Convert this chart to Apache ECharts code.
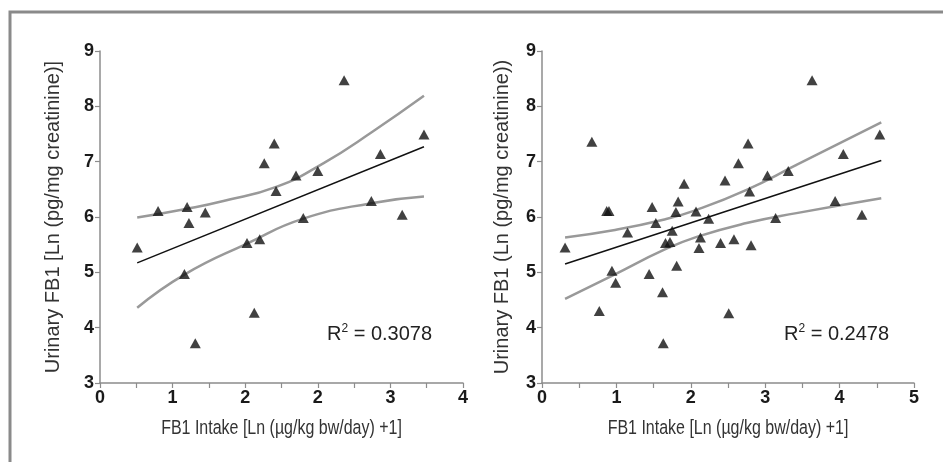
<!DOCTYPE html>
<html>
<head>
<meta charset="utf-8">
<script src="https://cdn.jsdelivr.net/npm/echarts@6/dist/echarts.min.js"></script>
<style>
html,body{margin:0;padding:0;background:#fff;}
#chart{width:943px;height:462px;}
</style>
</head>
<body>
<div id="chart"></div>
<script>
// ---- Left panel data ----
var leftPointsX = [0.41,0.64,0.96,0.98,1.16,0.93,1.05,1.62,1.76,1.70,1.81,1.92,1.94,2.16,2.24,2.40,2.69,2.99,3.09,3.33,3.57];
var leftPointsY = [5.45,6.11,6.18,5.89,6.08,4.97,3.72,5.53,5.60,4.27,6.97,7.33,6.47,6.75,5.98,6.83,8.47,6.29,7.14,6.04,7.49];
var leftFitX = [0.41,3.57];
var leftFitY = [5.17,7.27];
var leftUpperX = [0.41,0.96,1.36,1.95,2.46,3.01,3.57];
var leftUpperY = [5.99,6.15,6.29,6.55,6.97,7.55,8.19];
var leftLowerX = [0.41,0.93,1.62,2.24,2.99,3.57];
var leftLowerY = [4.36,4.96,5.52,5.97,6.25,6.37];
var leftR2 = '0.3078';

// ---- Right panel data ----
var rightPointsX = [0.31,0.67,0.77,0.87,0.90,0.94,0.99,1.15,1.44,1.48,1.53,1.62,1.63,1.66,1.72,1.75,1.80,1.81,1.83,1.91,2.07,2.11,2.13,2.24,2.40,2.46,2.51,2.58,2.64,2.77,2.79,2.81,3.03,3.14,3.31,3.63,3.94,4.05,4.30,4.54];
var rightPointsY = [5.45,7.36,4.30,6.11,6.11,5.03,4.81,5.72,4.97,6.18,5.89,4.64,3.72,5.53,5.55,5.75,6.09,5.12,6.28,6.60,6.10,5.44,5.63,5.97,5.53,6.66,4.26,5.60,6.97,7.33,6.46,5.49,6.75,5.98,6.83,8.47,6.29,7.14,6.04,7.49];
var rightFitX = [0.31,4.56];
var rightFitY = [5.15,7.02];
var rightUpperX = [0.31,0.96,1.63,2.08,2.75,3.42,4.56];
var rightUpperY = [5.63,5.76,5.95,6.13,6.49,6.94,7.71];
var rightLowerX = [0.31,0.96,1.63,2.08,2.75,3.42,4.56];
var rightLowerY = [4.52,4.95,5.40,5.64,5.89,6.07,6.34];
var rightR2 = '0.2478';

// ---- Axis settings ----
var yMin = 3, yMax = 9, yInterval = 1;
var leftXMax = 4, leftXInterval = 0.8;
var rightXMax = 5, rightXInterval = 1;
var xTitle = 'FB1 Intake [Ln (\u00b5g/kg bw/day) +1]';
var leftYTitle = 'Urinary FB1 [Ln (pg/mg creatinine)]';
var rightYTitle = 'Urinary FB1 (Ln (pg/mg creatinine))';

function zip(a, b) { return a.map(function (v, i) { return [v, b[i]]; }); }

var axisGray = '#8c8c8c';
var sansFont = '"Liberation Sans",Arial,Helvetica,sans-serif';
var labelFont = {fontFamily: sansFont, fontWeight: 'bold', fontSize: 18, color: '#1a1a1a'};

function xAxisCfg(idx, max, interval) {
  return {
    gridIndex: idx, type: 'value', min: 0, max: max, interval: interval,
    axisLine: {show: true, lineStyle: {color: axisGray, width: 1.5}},
    axisTick: {show: true, length: 5, lineStyle: {color: axisGray, width: 1.2}},
    minorTick: {show: true, splitNumber: 2, length: 5, lineStyle: {color: axisGray, width: 1.2}},
    splitLine: {show: false},
    axisLabel: Object.assign({margin: 6, formatter: function (v) { return String(Math.round(v)); }}, labelFont)
  };
}
function yAxisCfg(idx, name, gap) {
  return {
    gridIndex: idx, type: 'value', min: yMin, max: yMax, interval: yInterval,
    name: name, nameLocation: 'middle', nameGap: gap,
    nameTextStyle: {fontFamily: sansFont, fontSize: 20, color: '#333'},
    axisLine: {show: true, lineStyle: {color: axisGray, width: 1.5}},
    axisTick: {show: true, length: 5, lineStyle: {color: axisGray, width: 1.2}},
    splitLine: {show: false},
    axisLabel: Object.assign({margin: 6}, labelFont)
  };
}

function scatterS(idx, xs, ys) {
  return {type: 'scatter', xAxisIndex: idx, yAxisIndex: idx, data: zip(xs, ys),
    symbol: 'triangle', symbolSize: [11, 10], itemStyle: {color: '#111'}, z: 5, silent: true};
}
function lineS(idx, xs, ys, color, width, smooth) {
  return {type: 'line', xAxisIndex: idx, yAxisIndex: idx, data: zip(xs, ys), showSymbol: false,
    smooth: smooth, lineStyle: {color: color, width: width}, z: 3, silent: true};
}
function r2Text(left, val) {
  return {type: 'text', left: left, top: 323, style: {text: 'R{s|2} = ' + val, fontFamily: sansFont, fontSize: 20, fill: '#222',
    rich: {s: {fontSize: 12, padding: [0, 0, 10, 0], fontFamily: sansFont, fill: '#222'}}}, silent: true};
}
function xTitleText(cx) {
  return {type: 'text', x: cx, y: 428, scaleX: 0.78, style: {text: xTitle, fontFamily: sansFont, fontSize: 20.5, fill: '#333',
    align: 'center', verticalAlign: 'middle'}, silent: true};
}

var chart = echarts.init(document.getElementById('chart'));
chart.setOption({
  animation: false,
  backgroundColor: '#fff',
  grid: [
    {left: 100, right: 480, top: 51, bottom: 79},
    {left: 542, right: 29, top: 51, bottom: 79}
  ],
  xAxis: [xAxisCfg(0, leftXMax, leftXInterval), xAxisCfg(1, rightXMax, rightXInterval)],
  yAxis: [yAxisCfg(0, leftYTitle, 37), yAxisCfg(1, rightYTitle, 30)],
  graphic: [
    {type: 'polyline', shape: {points: [[10, 462], [10, 12], [943, 12]]}, style: {stroke: '#8a8a8a', lineWidth: 3, fill: null}, silent: true},
    r2Text(327, leftR2),
    r2Text(784, rightR2),
    xTitleText(281.5),
    xTitleText(728)
  ],
  series: [
    lineS(0, leftUpperX, leftUpperY, '#999', 2.5, 0.5),
    lineS(0, leftLowerX, leftLowerY, '#999', 2.5, 0.5),
    lineS(0, leftFitX, leftFitY, '#111', 1.5, false),
    scatterS(0, leftPointsX, leftPointsY),
    lineS(1, rightUpperX, rightUpperY, '#999', 2.5, 0.5),
    lineS(1, rightLowerX, rightLowerY, '#999', 2.5, 0.5),
    lineS(1, rightFitX, rightFitY, '#111', 1.5, false),
    scatterS(1, rightPointsX, rightPointsY)
  ]
});
</script>
</body>
</html>
